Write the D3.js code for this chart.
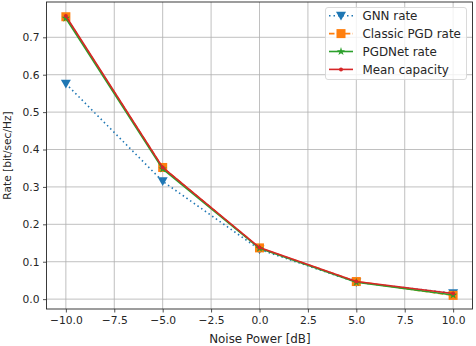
<!DOCTYPE html>
<html><head><meta charset="utf-8">
<script src="https://cdn.jsdelivr.net/npm/d3@7"></script>
<style>html,body{margin:0;padding:0;background:#fff;}svg{display:block;font-family:"DejaVu Sans",sans-serif;}</style>
</head><body>
<script>
const noise = [-10, -5, 0, 5, 10];
const gnnRate = [0.576, 0.315, 0.133, 0.045, 0.016];
const classicRate = [0.755, 0.352, 0.137, 0.047, 0.010];
const pgdnetRate = [0.751, 0.348, 0.136, 0.045, 0.011];
const meanCapacity = [0.757, 0.352, 0.138, 0.047, 0.015];
const xTicks = [-10, -7.5, -5, -2.5, 0, 2.5, 5, 7.5, 10];
const yTicks = [0.0, 0.1, 0.2, 0.3, 0.4, 0.5, 0.6, 0.7];
const seriesNames = ["GNN rate", "Classic PGD rate", "PGDNet rate", "Mean capacity"];

const W = 476, H = 346;
const m = {l: 46.5, r: 3.5, t: 2, b: 37};
const svg = d3.select("body").append("svg").attr("width", W).attr("height", H);
const x = d3.scaleLinear().domain([-11, 11]).range([m.l, W - m.r]);
const y = d3.scaleLinear().domain([-0.0264, 0.7944]).range([H - m.b, m.t]);
const fmtMinus = s => s.replace("-", "\u2212");

// grid
const g = svg.append("g");
g.selectAll(".gx").data(xTicks).enter().append("line")
  .attr("x1", d => x(d)).attr("x2", d => x(d)).attr("y1", m.t).attr("y2", H - m.b)
  .attr("stroke", "#b0b0b0").attr("stroke-width", 0.8);
g.selectAll(".gy").data(yTicks).enter().append("line")
  .attr("y1", d => y(d)).attr("y2", d => y(d)).attr("x1", m.l).attr("x2", W - m.r)
  .attr("stroke", "#b0b0b0").attr("stroke-width", 0.8);

// axes
const xAxis = d3.axisBottom(x).tickValues(xTicks).tickSize(3.5).tickPadding(3.5)
  .tickFormat(d => fmtMinus(d3.format(".1f")(d)));
const yAxis = d3.axisLeft(y).tickValues(yTicks).tickSize(3.5).tickPadding(3.5)
  .tickFormat(d => d3.format(".1f")(d));
const ax = svg.append("g").attr("transform", `translate(0,${H - m.b})`).call(xAxis);
const ay = svg.append("g").attr("transform", `translate(${m.l},0)`).call(yAxis);
[ax, ay].forEach(a => {
  a.select(".domain").remove();
  a.selectAll("text").attr("font-size", "10.7px").attr("fill", "#262626").attr("font-family", "DejaVu Sans");
  a.selectAll(".tick line").attr("stroke", "#262626").attr("stroke-width", 0.8);
});

const colors = ["#1f77b4", "#ff7f0e", "#2ca02c", "#d62728"];
const datasets = [gnnRate, classicRate, pgdnetRate, meanCapacity];
const dashes = ["1.5,3", "5.5,2.4", null, null];
const line = d3.line().x((d, i) => x(noise[i])).y(d => y(d));

function marker(sel, k, cx, cy) {
  const c = colors[k];
  if (k === 0) {
    const s = 5;
    sel.append("path").attr("d", `M${cx - s},${cy - s * 0.8}L${cx + s},${cy - s * 0.8}L${cx},${cy + s * 0.95}Z`).attr("fill", c);
  } else if (k === 1) {
    sel.append("rect").attr("x", cx - 4.5).attr("y", cy - 4.5).attr("width", 9).attr("height", 9).attr("fill", c);
  } else if (k === 2) {
    sel.append("path").attr("d", d3.symbol(d3.symbolStar, 22)()).attr("transform", `translate(${cx},${cy})`).attr("fill", c);
  } else {
    sel.append("circle").attr("cx", cx).attr("cy", cy).attr("r", 2).attr("fill", c);
  }
}

const plot = svg.append("g");
datasets.forEach((ds, k) => {
  const gg = plot.append("g");
  gg.append("path").datum(ds).attr("d", line).attr("fill", "none")
    .attr("stroke", colors[k]).attr("stroke-width", 1.6)
    .attr("stroke-dasharray", dashes[k]);
  ds.forEach((v, i) => marker(gg, k, x(noise[i]), y(v)));
});

// frame
svg.append("rect").attr("x", m.l).attr("y", m.t).attr("width", W - m.r - m.l).attr("height", H - m.b - m.t)
  .attr("fill", "none").attr("stroke", "#262626").attr("stroke-width", 0.9);

// labels
svg.append("text").attr("x", 259.9).attr("y", 342.5).attr("text-anchor", "middle")
  .attr("font-size", "11.9px").attr("fill", "#262626").text("Noise Power [dB]");
svg.append("text").attr("transform", `translate(11,${(m.t + H - m.b) / 2}) rotate(-90)`).attr("text-anchor", "middle")
  .attr("font-size", "10.6px").attr("fill", "#262626").text("Rate [bit/sec/Hz]");

// legend
const lg = svg.append("g");
lg.append("rect").attr("x", 325.5).attr("y", 7.5).attr("width", 141).attr("height", 72).attr("rx", 2.5)
  .attr("fill", "#fff").attr("fill-opacity", 0.8).attr("stroke", "#d6d6d6").attr("stroke-width", 0.9);
seriesNames.forEach((name, k) => {
  const cy = 15.7 + k * 17.9;
  lg.append("line").attr("x1", 329).attr("x2", 353).attr("y1", cy).attr("y2", cy)
    .attr("stroke", colors[k]).attr("stroke-width", 1.6).attr("stroke-dasharray", dashes[k]);
  marker(lg, k, 341, cy);
  lg.append("text").attr("x", 362.5).attr("y", cy + 4.3).attr("font-size", "11.9px").attr("fill", "#262626").text(name);
});
</script>
</body></html>
